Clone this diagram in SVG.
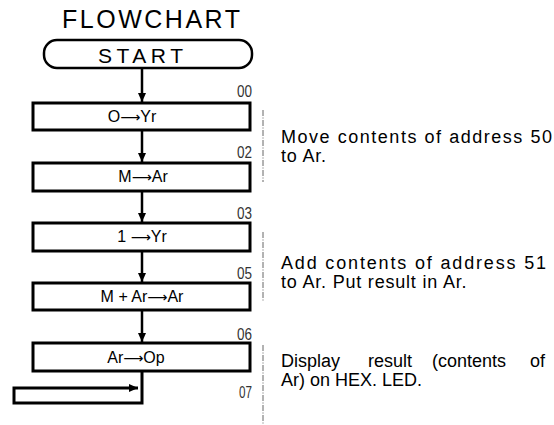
<svg xmlns="http://www.w3.org/2000/svg" width="554" height="425" viewBox="0 0 554 425">
<style>
.box{fill:#fff;stroke:#000;stroke-width:3}
.term{fill:#fff;stroke:#000;stroke-width:2.5}
.t{font-family:"Liberation Sans",Arial,sans-serif;fill:#000}
.bt{font-size:16px;text-anchor:middle}
.ar{font-family:"DejaVu Sans",sans-serif;font-size:14px}
.lbl{font-family:"Liberation Sans",Arial,sans-serif;font-size:16px;text-anchor:end;fill:#333}
.note{font-size:18px}
.n2{letter-spacing:0.8px}
.con{stroke:#000;stroke-width:2.5;fill:none}
.dash{stroke:#666;stroke-width:1;stroke-dasharray:6 1.5 1 1.5;fill:none}
</style>
<defs>
<marker id="ah" markerWidth="10" markerHeight="10" refX="9" refY="5" orient="auto" markerUnits="userSpaceOnUse">
<path d="M0,1 L9,5 L0,9 Z" fill="#000"/>
</marker>
</defs>
<text class="t" x="62" y="28" font-size="25" textLength="178" lengthAdjust="spacing">FLOWCHART</text>
<g id="start">
<rect class="term" x="44" y="40" width="208" height="28" rx="13" ry="13"/>
<text class="t" x="98" y="63" font-size="21" textLength="85" lengthAdjust="spacing">START</text>
</g>
<g id="n00">
<rect class="box" x="33" y="103" width="217" height="27"/>
<text class="t bt" x="132" y="122">O<tspan class="ar">⟶</tspan>Yr</text>
<text class="lbl" x="252" y="97" textLength="15" lengthAdjust="spacingAndGlyphs">00</text>
</g>
<g id="n02">
<rect class="box" x="33" y="163" width="217" height="28"/>
<text class="t bt" x="143" y="182">M<tspan class="ar">⟶</tspan>Ar</text>
<text class="lbl" x="252" y="158" textLength="15" lengthAdjust="spacingAndGlyphs">02</text>
</g>
<g id="n03">
<rect class="box" x="33" y="223" width="217" height="28"/>
<text class="t bt" x="142" y="242">1 <tspan class="ar">⟶</tspan>Yr</text>
<text class="lbl" x="252" y="219" textLength="15" lengthAdjust="spacingAndGlyphs">03</text>
</g>
<g id="n05">
<rect class="box" x="33" y="283" width="217" height="27"/>
<text class="t bt" x="142" y="302">M + Ar<tspan class="ar">⟶</tspan>Ar</text>
<text class="lbl" x="252" y="279" textLength="15" lengthAdjust="spacingAndGlyphs">05</text>
</g>
<g id="n06">
<rect class="box" x="33" y="343" width="217" height="28"/>
<text class="t bt" x="136" y="363">Ar<tspan class="ar">⟶</tspan>Op</text>
<text class="lbl" x="252" y="340" textLength="15" lengthAdjust="spacingAndGlyphs">06</text>
</g>
<g id="n07">
<text class="lbl" x="252" y="398" textLength="13" lengthAdjust="spacingAndGlyphs">07</text>
</g>
<g id="connectors">
<line class="con" x1="142" y1="68" x2="142" y2="102" marker-end="url(#ah)"/>
<line class="con" x1="142" y1="130" x2="142" y2="162" marker-end="url(#ah)"/>
<line class="con" x1="142" y1="191" x2="142" y2="222" marker-end="url(#ah)"/>
<line class="con" x1="142" y1="251" x2="142" y2="282" marker-end="url(#ah)"/>
<line class="con" x1="142" y1="310" x2="142" y2="342" marker-end="url(#ah)"/>
<path class="con" d="M142,371 V403 H14 V388 H138" marker-end="url(#ah)" style="stroke-width:3"/>
</g>
<g id="notes">
<path class="dash" d="M263,110 V182 M263,232 V301 M263,345 V424"/>
<text class="t note" x="281" y="143" textLength="271" lengthAdjust="spacing">Move contents of address 50</text>
<text class="t note n2" x="281" y="162">to Ar.</text>
<text class="t note" x="281" y="269" textLength="265" lengthAdjust="spacing">Add contents of address 51</text>
<text class="t note n2" x="281" y="288">to Ar. Put result in Ar.</text>
<text class="t note" y="367"><tspan x="281">Display</tspan><tspan x="368">result</tspan><tspan x="432">(contents</tspan><tspan x="530">of</tspan></text>
<text class="t note" x="281" y="386">Ar) on HEX. LED.</text>
</g>
</svg>
